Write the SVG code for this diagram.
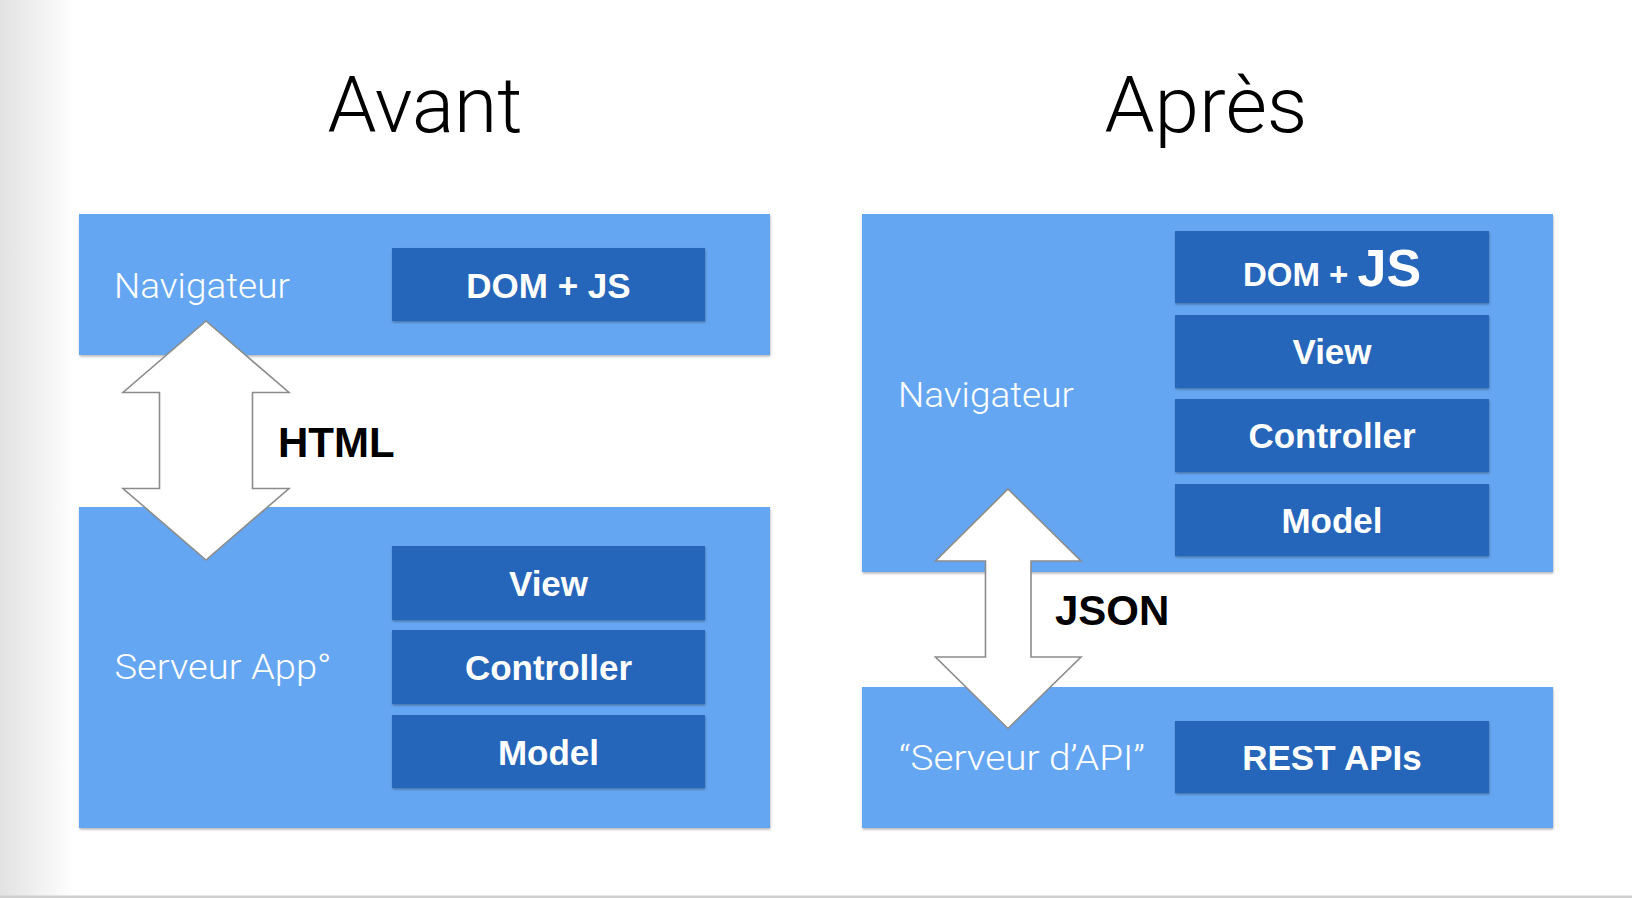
<svg xmlns="http://www.w3.org/2000/svg" width="1632" height="898" viewBox="0 0 1632 898">
<defs>
<linearGradient id="edge" x1="0" y1="0" x2="1" y2="0">
<stop offset="0" stop-color="#e2e2e2"/>
<stop offset="1" stop-color="#ffffff"/>
</linearGradient>
<filter id="sh" x="-5%" y="-5%" width="110%" height="115%">
<feDropShadow dx="0.5" dy="1.5" stdDeviation="1" flood-color="#000" flood-opacity="0.3"/>
</filter>
<style>
.outer{fill:#65A6F2;filter:url(#sh)}
.inner{fill:#2766BA;filter:url(#sh)}
.lbl{font-family:Roboto,"Liberation Sans",sans-serif;font-weight:300;fill:#ffffff;font-size:35px}
.box{font-family:"Liberation Sans",Arial,sans-serif;font-weight:bold;fill:#ffffff;font-size:35px;text-anchor:middle}
.title{font-family:Roboto,"Liberation Sans",sans-serif;font-weight:300;fill:#000;font-size:78px;text-anchor:middle}
.conn{font-family:"Liberation Sans",Arial,sans-serif;font-weight:bold;fill:#000;font-size:42px}
.arrow{fill:#ffffff;stroke:#8c8c8c;stroke-width:1.6;stroke-linejoin:miter}
</style>
</defs>
<rect width="1632" height="898" fill="#ffffff"/>
<rect x="0" y="0" width="75" height="898" fill="url(#edge)"/>
<rect x="0" y="895.5" width="1632" height="2.5" fill="#cfcfcf"/>

<text class="title" x="425" y="132" textLength="195" lengthAdjust="spacingAndGlyphs">Avant</text>
<text class="title" x="1206" y="132" textLength="203" lengthAdjust="spacingAndGlyphs">Après</text>

<g id="avant-navigateur">
<rect class="outer" x="79" y="214" width="691" height="141"/>
<text class="lbl" x="114" y="298" textLength="176" lengthAdjust="spacingAndGlyphs">Navigateur</text>
</g>
<g id="avant-domjs">
<rect class="inner" x="392" y="248" width="313" height="73"/>
<text class="box" x="548.5" y="298">DOM + JS</text>
</g>

<g id="avant-serveur">
<rect class="outer" x="79" y="507" width="691" height="321"/>
<text class="lbl" x="114.5" y="679" textLength="217" lengthAdjust="spacingAndGlyphs">Serveur App°</text>
</g>
<g id="avant-view">
<rect class="inner" x="392" y="546" width="313" height="74"/>
<text class="box" x="548.5" y="596">View</text>
</g>
<g id="avant-controller">
<rect class="inner" x="392" y="630" width="313" height="74"/>
<text class="box" x="548.5" y="680">Controller</text>
</g>
<g id="avant-model">
<rect class="inner" x="392" y="715" width="313" height="73"/>
<text class="box" x="548.5" y="765">Model</text>
</g>

<g id="apres-navigateur">
<rect class="outer" x="862" y="214" width="691" height="358"/>
<text class="lbl" x="898" y="407" textLength="176" lengthAdjust="spacingAndGlyphs">Navigateur</text>
</g>
<g id="apres-domjs">
<rect class="inner" x="1175" y="231" width="314" height="72"/>
<text x="1332" y="286" style="font-family:'Liberation Sans',Arial,sans-serif;font-weight:bold;fill:#fff;text-anchor:middle"><tspan font-size="33">DOM + </tspan><tspan font-size="52">JS</tspan></text>
</g>
<g id="apres-view">
<rect class="inner" x="1175" y="315" width="314" height="73"/>
<text class="box" x="1332" y="364">View</text>
</g>
<g id="apres-controller">
<rect class="inner" x="1175" y="399" width="314" height="73"/>
<text class="box" x="1332" y="448">Controller</text>
</g>
<g id="apres-model">
<rect class="inner" x="1175" y="484" width="314" height="72"/>
<text class="box" x="1332" y="533">Model</text>
</g>

<g id="apres-serveur-api">
<rect class="outer" x="862" y="687" width="691" height="141"/>
<text class="lbl" x="899" y="770" textLength="246" lengthAdjust="spacingAndGlyphs">“Serveur d’API”</text>
</g>
<g id="apres-rest">
<rect class="inner" x="1175" y="721" width="314" height="72"/>
<text class="box" x="1332" y="770">REST APIs</text>
</g>

<g id="connectors">
<path class="arrow" d="M206,321 L289,392.5 L252.5,392.5 L252.5,488.5 L289,488.5 L206,560 L123,488.5 L159.5,488.5 L159.5,392.5 L123,392.5 Z"/>
<text class="conn" x="278" y="457">HTML</text>
<path class="arrow" d="M1008,489 L1081,561 L1031,561 L1031,657 L1081,657 L1008,728.5 L935.5,657 L985.5,657 L985.5,561 L935.5,561 Z"/>
<text class="conn" x="1055" y="625">JSON</text>
</g>
</svg>
